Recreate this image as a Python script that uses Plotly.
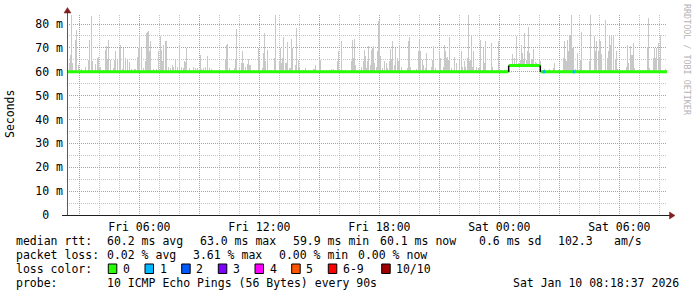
import pandas as pd
import plotly.graph_objects as go

# ---------------- data ----------------
START = pd.Timestamp("2026-01-09 02:23:00")
WINDOW_MIN = 1800  # 30 hours

# smoke spikes: minutes after START, and top of the smoke (ms)
smoke_min = [
    5, 9, 12, 15, 24, 27, 33, 42, 54, 64, 67, 73, 76, 82, 85, 89, 92, 97, 100, 109,
    113, 116, 120, 124, 130, 137, 142, 145, 149, 157, 160, 165, 169, 175, 180, 185, 192, 200, 205, 210,
    213, 217, 222, 227, 233, 237, 240, 243, 246, 249, 253, 259, 267, 274, 278, 282, 286, 289, 293, 296,
    302, 309, 315, 319, 323, 331, 337, 342, 347, 352, 355, 358, 365, 372, 377, 383, 389, 395, 399, 402,
    409, 415, 420, 425, 433, 442,
    455, 475, 478, 481, 487, 502, 505, 508, 515, 523, 526, 529, 535, 539, 543, 546, 550, 557, 574, 577,
    585, 589, 592, 595, 600, 607, 613, 622, 625, 631, 637, 640, 643, 646, 649, 653, 656, 659, 665, 669,
    673, 676, 683, 685, 688, 692, 695, 709, 715, 722, 730, 737, 742, 745, 755, 758, 769, 777, 787, 792,
    797, 804, 809, 812, 820, 823, 829, 835, 851, 854, 858, 862, 865, 872, 883, 887, 890, 894, 897,
    900, 903, 909, 912, 915, 918, 921, 927, 930, 933, 936, 939, 945, 952, 957, 961, 967, 970, 973, 976,
    982, 985, 990, 994, 997, 1002, 1012, 1020, 1024, 1027, 1030, 1037, 1047, 1054, 1057, 1060, 1065, 1069, 1073, 1077,
    1084, 1093, 1096, 1099, 1103, 1109, 1115, 1118, 1123, 1129, 1132, 1135, 1138, 1141, 1144, 1147, 1152, 1159, 1162, 1167,
    1173, 1177, 1181, 1186, 1192, 1195, 1199, 1202, 1205, 1209, 1212, 1215, 1218, 1223, 1227, 1233, 1236, 1239, 1245, 1249,
    1252, 1255, 1260, 1267, 1271, 1275, 1281, 1287, 1294, 1298, 1305, 1312,
    1334, 1340, 1346, 1353, 1359, 1362, 1365, 1368, 1372, 1377, 1381, 1384, 1387, 1391, 1396, 1399, 1404, 1407, 1417, 1420,
    1427, 1432, 1447, 1457, 1460, 1472, 1477, 1487, 1490, 1493, 1496, 1499, 1502, 1505, 1508, 1511, 1514, 1518, 1523, 1528,
    1531, 1535, 1539, 1542, 1547, 1552, 1559, 1567, 1570, 1576, 1582, 1585, 1588, 1592, 1595, 1598, 1601, 1607, 1611, 1615,
    1619, 1622, 1625, 1628, 1631, 1635, 1639, 1643, 1646, 1651, 1657, 1665, 1671, 1677, 1681, 1684, 1688, 1691, 1695, 1698,
    1702, 1709, 1719, 1725, 1729, 1733, 1739, 1743, 1747, 1752, 1757, 1761, 1764, 1767, 1772, 1775, 1778, 1784, 1790, 1794,
]
smoke_top = [
    63.6, 67.1, 83.9, 63.6, 73.4, 77.6, 62.9, 61.1, 61.8, 65.0, 73.4, 83.2, 64.3, 60.8, 63.2, 65.7, 66.0, 62.2, 61.8, 60.8,
    69.2, 70.6, 65.0, 73.3, 65.0, 61.5, 65.0, 68.5, 65.0, 69.9, 71.0, 61.3, 69.9, 65.7, 65.4, 64.1, 61.1, 61.1, 61.3, 66.0,
    69.9, 75.5, 69.9, 61.5, 64.3, 76.2, 76.6, 76.9, 68.5, 72.7, 60.8, 61.1, 61.1, 68.8, 74.8, 69.2, 64.3, 71.3, 72.7, 73.0,
    62.2, 61.5, 62.9, 62.2, 65.0, 61.8, 70.6, 61.8, 61.5, 64.3, 64.1, 69.9, 61.5, 60.8, 61.8, 61.5, 61.5, 61.3, 67.1, 61.1,
    61.5, 62.2, 66.4, 61.5, 61.1, 60.8,
    60.8, 65.0, 71.0, 71.6, 61.5, 61.5, 65.0, 78.0, 61.5, 63.6, 68.8, 63.6, 61.8, 63.2, 65.4, 62.9, 62.9, 60.8, 69.9, 66.0,
    61.5, 67.8, 76.2, 64.3, 69.1, 60.8, 60.8, 65.7, 83.9, 60.8, 64.3, 69.9, 63.6, 65.7, 74.7, 63.6, 63.6, 72.4, 61.5, 61.5,
    73.7, 69.9, 62.2, 62.9, 78.3, 65.0, 61.5, 60.8, 61.5, 60.8, 60.8, 61.1, 61.1, 62.9, 65.7, 65.0, 60.8, 60.8, 60.8, 61.3,
    61.3, 60.8, 64.3, 68.5, 60.8, 72.7, 60.8, 60.8, 64.3, 73.1, 65.7, 73.8, 62.9, 60.8, 62.2, 64.3, 69.2, 66.4, 61.5,
    64.3, 70.6, 62.9, 69.2, 69.9, 70.9, 63.6, 62.2, 68.8, 81.1, 81.8, 66.4, 61.5, 64.3, 63.6, 61.5, 64.3, 69.5, 65.0, 72.7,
    62.9, 69.9, 65.7, 64.3, 71.3, 62.2, 60.8, 61.5, 72.7, 74.4, 61.8, 60.8, 61.1, 68.8, 73.4, 68.5, 65.0, 62.9, 61.5, 67.8,
    60.8, 62.2, 65.0, 70.6, 61.5, 60.8, 68.5, 65.7, 60.8, 62.2, 71.0, 68.5, 65.7, 66.0, 65.0, 74.5, 61.5, 60.8, 66.0, 63.6,
    60.8, 65.0, 68.5, 62.2, 64.3, 62.2, 65.7, 83.9, 64.3, 65.0, 75.5, 62.2, 68.5, 60.8, 61.8, 61.5, 62.2, 73.4, 60.8, 69.9,
    63.6, 73.0, 60.8, 60.8, 72.0, 61.8, 60.8, 60.8, 72.7, 60.8, 60.8, 60.8,
    67.4, 65.7, 74.8, 63.6, 65.0, 71.3, 67.8, 65.0, 76.2, 65.0, 68.5, 78.6, 67.8, 65.0, 65.3, 69.6, 63.9, 63.6, 65.0, 64.3,
    60.8, 61.1, 61.1, 61.5, 63.6, 60.8, 60.8, 65.7, 72.7, 65.0, 64.3, 73.4, 68.5, 74.8, 75.5, 83.9, 69.9, 69.9, 61.1, 60.8,
    67.8, 60.8, 65.0, 76.5, 60.8, 60.8, 60.8, 64.3, 83.9, 60.8, 74.8, 68.5, 72.7, 68.5, 73.4, 73.0, 67.4, 60.8, 60.8, 81.8,
    65.7, 68.5, 75.5, 71.3, 75.5, 60.8, 75.5, 65.0, 68.5, 61.1, 60.8, 60.8, 60.8, 61.8, 71.3, 63.6, 70.6, 67.1, 67.1, 72.0,
    61.5, 60.8, 60.8, 60.8, 60.8, 60.8, 70.2, 82.5, 61.5, 60.8, 65.7, 69.9, 65.7, 69.9, 72.0, 65.7, 75.2, 60.8, 60.8, 61.1,
]
assert len(smoke_min) == len(smoke_top)

# median rtt: value holds from each change time until the next one
median_change_min = [0, 1325, 1420, 1800]
median_ms = [60.0, 62.6, 60.0, 60.0]

# periods with 1/10 packet loss (median drawn in loss colour 1)
loss1_start_min = [1427, 1517]
loss1_end_min = [1436, 1525]

y_ticks = [0, 10, 20, 30, 40, 50, 60, 70, 80]
y_tick_labels = ["0\u00a0\u00a0", "10 m", "20 m", "30 m", "40 m", "50 m", "60 m", "70 m", "80 m"]
x_tick_times = ["2026-01-09 03:00", "2026-01-09 06:00", "2026-01-09 09:00", "2026-01-09 12:00",
                "2026-01-09 15:00", "2026-01-09 18:00", "2026-01-09 21:00", "2026-01-10 00:00",
                "2026-01-10 03:00", "2026-01-10 06:00"]
x_tick_labels = ["", "Fri 06:00", "", "Fri 12:00", "", "Fri 18:00", "", "Sat 00:00", "", "Sat 06:00"]

loss_labels = ["0", "1", "2", "3", "4", "5", "6-9", "10/10"]
loss_colors = ["#26ff00", "#00b8ff", "#0059ff", "#7e00ff", "#ff00ff", "#ff5500", "#ff0000", "#a10000"]

row1 = ["median rtt:", "60.2 ms avg", "63.0 ms max", "59.9 ms min", "60.1 ms now", "0.6 ms sd", "102.3", "am/s"]
row2 = ["packet loss:", "0.02 % avg", "3.61 % max", "0.00 % min", "0.00 % now"]
row3_title = "loss color:"
row4 = ["probe:", "10 ICMP Echo Pings (56 Bytes) every 90s"]
stamp = "Sat Jan 10 08:18:37 2026"

# ---------------- layout geometry ----------------
L, T, W, H = 67, 15, 600, 200
FIG_W, FIG_H = 697, 297
MONO = "DejaVu Sans Mono"
FS = 11.5
YMAX = 200 / 2.3875


def px(x):
    return (x - L) / W


def py(y):
    return (T + H - y) / H


def t(m):
    return START + pd.Timedelta(minutes=m)


def median_at(m):
    val = median_ms[0]
    for c, v in zip(median_change_min, median_ms):
        if m >= c:
            val = v
    return val


fig = go.Figure()

# smoke
bins = [3 * round(m / 3) for m in smoke_min]
bases = [median_at(b + 1.5) for b in bins]
fig.add_trace(go.Bar(
    x=[t(b + 1.5) for b in bins],
    y=[top - b for top, b in zip(smoke_top, bases)],
    base=bases,
    width=[3 * 60 * 1000] * len(bins),
    marker=dict(color="#c8c8c8", line=dict(width=0)),
    hoverinfo="skip",
))

# median line (horizontal segments)
mx, my = [], []
for i in range(len(median_change_min) - 1):
    mx += [t(median_change_min[i]), t(median_change_min[i + 1]), None]
    my += [median_ms[i], median_ms[i], None]
fig.add_trace(go.Scatter(x=mx, y=my, mode="lines",
                         line=dict(color=loss_colors[0], width=3), hoverinfo="skip"))

# vertical transitions drawn in black
vx, vy = [], []
for i in range(1, len(median_change_min) - 1):
    c = median_change_min[i]
    vx += [t(c), t(c), None]
    vy += [median_ms[i - 1], median_ms[i], None]
fig.add_trace(go.Scatter(x=vx, y=vy, mode="lines",
                         line=dict(color="#000000", width=1.5), hoverinfo="skip"))

# loss-coloured bits of the median
lx, ly = [], []
for s, e in zip(loss1_start_min, loss1_end_min):
    lx += [t(s), t(e), None]
    ly += [median_at(s), median_at(s), None]
fig.add_trace(go.Scatter(x=lx, y=ly, mode="lines",
                         line=dict(color=loss_colors[1], width=3), hoverinfo="skip"))

GRID = "rgba(150,150,150,0.55)"
MGRID = "rgba(222,110,110,0.6)"

fig.update_xaxes(
    type="date", range=[t(0), t(WINDOW_MIN)],
    tickvals=x_tick_times, ticktext=x_tick_labels,
    showgrid=True, gridcolor=MGRID, griddash="1px,1px", gridwidth=1,
    minor=dict(dtick=3600000, tick0="2026-01-09 00:00", showgrid=True,
               gridcolor=GRID, griddash="1px,1px", gridwidth=1),
    ticks="", zeroline=False, showline=False,
    tickfont=dict(family=MONO, size=FS, color="black"),
    ticklabelstandoff=3,
)
fig.update_yaxes(
    range=[0, YMAX], tickvals=y_ticks, ticktext=y_tick_labels,
    showgrid=True, gridcolor=MGRID, griddash="1px,1px", gridwidth=1,
    minor=dict(dtick=5, tick0=0, showgrid=True, gridcolor=GRID, griddash="1px,1px", gridwidth=1),
    ticks="", zeroline=False, showline=False,
    tickfont=dict(family=MONO, size=FS, color="black"),
    ticklabelstandoff=3,
)

shapes = []
# axes
shapes.append(dict(type="line", xref="paper", yref="paper", x0=px(67.5), x1=px(67.5),
                   y0=py(215), y1=py(12), line=dict(color="#5a5a5a", width=1)))
shapes.append(dict(type="line", xref="paper", yref="paper", x0=px(62), x1=px(670),
                   y0=py(215.5), y1=py(215.5), line=dict(color="#1f1f1f", width=1)))
# arrows
ARROW = "#801f1f"
shapes.append(dict(type="path", xref="paper", yref="paper",
                   path=f"M {px(67.5)} {py(7.5)} L {px(64)} {py(13)} L {px(71)} {py(13)} Z",
                   fillcolor=ARROW, line=dict(color=ARROW, width=0.5)))
shapes.append(dict(type="path", xref="paper", yref="paper",
                   path=f"M {px(675)} {py(215.5)} L {px(669.5)} {py(212)} L {px(669.5)} {py(219)} Z",
                   fillcolor=ARROW, line=dict(color=ARROW, width=0.5)))

annotations = []


def text(x, y, s, anchor="left", size=FS, color="black", angle=0, family=MONO):
    annotations.append(dict(xref="paper", yref="paper", x=px(x), y=py(y), text=s,
                            showarrow=False, xanchor=anchor, yanchor="middle",
                            textangle=angle, borderpad=0, borderwidth=0,
                            font=dict(family=family, size=size, color=color)))


# axis title and watermark
text(10, 114, "Seconds", anchor="center", angle=-90)
text(687, 60, "RRDTOOL / TOBI OETIKER", anchor="center", size=8.4, color="#b4b4b4", angle=90)

# legend rows
row1_x = [16, 107.3, 200, 292.7, 380, 479.3, 558.3, 614]
for x, s in zip(row1_x, row1):
    text(x, 241, s)
row2_x = [16, 107.3, 192.7, 279.3, 358.3]
for x, s in zip(row2_x, row2):
    text(x, 255, s)
text(16, 268.5, row3_title)
box_x = [108.3, 145, 181.7, 218.3, 255, 291.7, 328.3, 381.7]
for bx, lab, col in zip(box_x, loss_labels, loss_colors):
    shapes.append(dict(type="rect", xref="paper", yref="paper", x0=px(bx), x1=px(bx + 8.5),
                       y0=py(273.5), y1=py(264), fillcolor=col, line=dict(color="#000000", width=1)))
    text(bx + 14.5, 268.5, lab)
row4_x = [16, 107.3]
for x, s in zip(row4_x, row4):
    text(x, 283, s)
text(513.3, 283, stamp)

fig.update_layout(
    width=FIG_W, height=FIG_H,
    margin=dict(l=L, r=FIG_W - L - W, t=T, b=FIG_H - T - H, pad=0),
    paper_bgcolor="white", plot_bgcolor="white",
    showlegend=False, bargap=0, barmode="overlay",
    font=dict(family=MONO, size=FS, color="black"),
    shapes=shapes, annotations=annotations,
)

fig.write_html("out.html")
